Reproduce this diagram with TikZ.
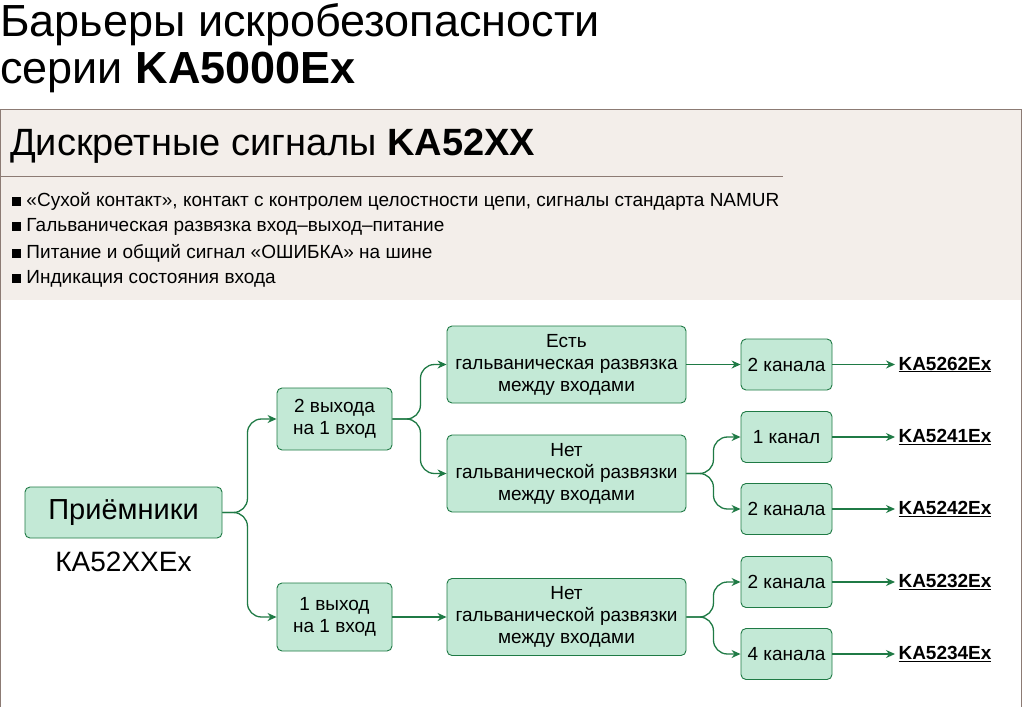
\documentclass[tikz,border=0pt]{standalone}
\usepackage{fontspec}
\setmainfont{Liberation Sans}
\usetikzlibrary{calc,arrows.meta}
\definecolor{gfill}{HTML}{C3E9D6}
\definecolor{gline}{HTML}{1F7A45}
\definecolor{beige}{HTML}{F3EEEA}
\definecolor{frame}{HTML}{8C7B74}
\begin{document}
\begin{tikzpicture}[x=1pt,y=-1pt,
  box/.style={draw=gline,fill=gfill,rounded corners=5pt,line width=0.9pt,align=center,font=\fontsize{19}{22}\selectfont,inner sep=0pt},
  conn/.style={draw=gline,line width=1.3pt,-{Stealth[length=9pt,width=8pt]},rounded corners=14pt},
  lbl/.style={font=\fontsize{19}{22}\selectfont\bfseries,anchor=west}]
\useasboundingbox (0,0) rectangle (1024,706);
\fill[white] (0,0) rectangle (1024,706);
\fill[beige] (1,110) rectangle (1021,300);
\draw[frame,line width=1pt] (0.5,712) -- (0.5,110) -- (1021,110) -- (1021,712);
\node[anchor=west,font=\fontsize{45}{50}\selectfont,inner sep=0pt] (t1) at (0,25) {Барьеры искробезопасности};
\node[anchor=west,font=\fontsize{45}{50}\selectfont,inner sep=0pt] (t2) at (0,72) {серии \textbf{KA5000Ex}};
\node[anchor=west,font=\fontsize{38}{42}\selectfont,inner sep=0pt] (h) at (10,146) {Дискретные сигналы \textbf{KA52XX}};
\draw[frame,line width=0.8pt] (0,176.5) -- (783,176.5);
\foreach \t [count=\i] in {{«Сухой контакт», контакт с контролем целостности цепи, сигналы стандарта NAMUR},{Гальваническая развязка вход–выход–питание},{Питание и общий сигнал «ОШИБКА» на шине},{Индикация состояния входа}}
  \node[anchor=west,font=\fontsize{19}{22}\selectfont,inner sep=0pt] (b\i) at (12,201+26*\i-26) {\rule[0.5pt]{9pt}{9pt} \t};
\node[box,minimum width=197pt,minimum height=51pt,font=\fontsize{29}{33}\selectfont] (p) at (123.5,512.5) {Приёмники};
\node[font=\fontsize{28}{32}\selectfont] (pl) at (123.5,562) {КА52XXEx};
\node[box,minimum width=115pt,minimum height=62pt] (o2) at (334.5,419) {2 выхода\\на 1 вход};
\node[box,minimum width=115pt,minimum height=68pt] (o1) at (334.5,617) {1 выход\\на 1 вход};
\node[box,minimum width=239pt,minimum height=77pt] (e1) at (566.5,364.5) {Есть\\гальваническая развязка\\между входами};
\node[box,minimum width=239pt,minimum height=77pt] (n1) at (566.5,473.5) {Нет\\гальванической развязки\\между входами};
\node[box,minimum width=239pt,minimum height=77pt] (n2) at (566.5,617) {Нет\\гальванической развязки\\между входами};
\node[box,minimum width=91pt,minimum height=51pt] (c1) at (786.5,364.5) {2 канала};
\node[box,minimum width=91pt,minimum height=51pt] (c2) at (786.5,437) {1 канал};
\node[box,minimum width=91pt,minimum height=51pt] (c3) at (786.5,509) {2 канала};
\node[box,minimum width=91pt,minimum height=51pt] (c4) at (786.5,582) {2 канала};
\node[box,minimum width=91pt,minimum height=51pt] (c5) at (786.5,654) {4 канала};
\node[lbl] (k1) at (895,364.5) {\underline{KA5262Ex}};
\node[lbl] (k2) at (895,437) {\underline{KA5241Ex}};
\node[lbl] (k3) at (895,509) {\underline{KA5242Ex}};
\node[lbl] (k4) at (895,582) {\underline{KA5232Ex}};
\node[lbl] (k5) at (895,654) {\underline{KA5234Ex}};
\draw[conn] (p.east) -- ($(p.east)+(25,0)$) |- (o2.west);
\draw[conn] (p.east) -- ($(p.east)+(25,0)$) |- (o1.west);
\draw[conn] (o2.east) -- ($(o2.east)+(28,0)$) |- (e1.west);
\draw[conn] (o2.east) -- ($(o2.east)+(28,0)$) |- (n1.west);
\draw[conn] (o1.east) -- (n2.west);
\draw[conn] (e1.east) -- (c1.west);
\draw[conn] (n1.east) -- ($(n1.east)+(27,0)$) |- (c2.west);
\draw[conn] (n1.east) -- ($(n1.east)+(27,0)$) |- (c3.west);
\draw[conn] (n2.east) -- ($(n2.east)+(27,0)$) |- (c4.west);
\draw[conn] (n2.east) -- ($(n2.east)+(27,0)$) |- (c5.west);
\foreach \i in {1,...,5} \draw[conn] (c\i.east) -- (k\i.west);
\end{tikzpicture}
\end{document}
